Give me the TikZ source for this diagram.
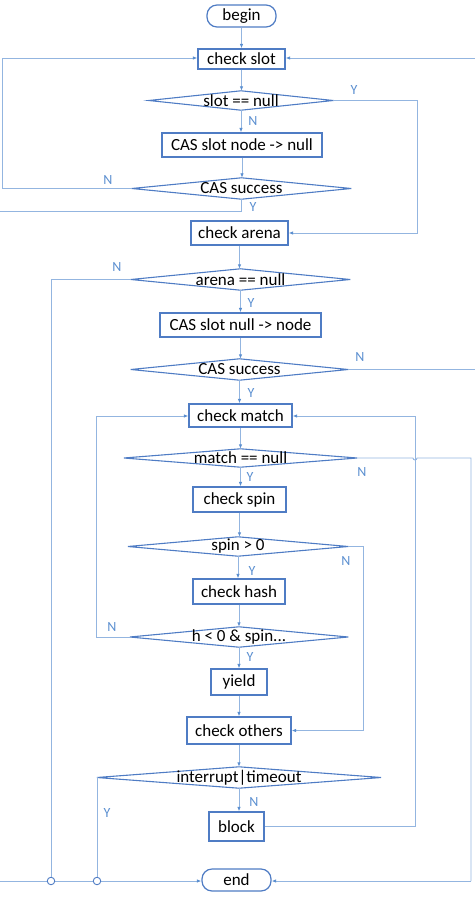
\documentclass[tikz,border=0pt]{standalone}
\usepackage{fontspec}
\setmainfont{Carlito}
\usetikzlibrary{arrows.meta}
\definecolor{conn}{HTML}{93B5E0}
\definecolor{boxc}{HTML}{4F7CC4}
\definecolor{lbl}{HTML}{5B8FD0}
\begin{document}
\begin{tikzpicture}[x=1pt,y=-1pt,
  font=\fontsize{17}{20}\selectfont,
  box/.style={draw=boxc,line width=1.2pt,rectangle,inner sep=0pt,fill=white},
  term/.style={box,rounded corners=10pt},
  dia/.style={rectangle,inner sep=0pt},
  lab/.style={text=lbl,font=\fontsize{14}{16}\selectfont,inner sep=0pt},
  ln/.style={draw=conn,line width=0.9pt},
  arr/.style={ln,-{Latex[length=4.5pt,width=3.5pt,color=lbl]}},
  jn/.style={circle,draw=boxc,fill=white,line width=0.9pt,minimum size=7.5pt,inner sep=0pt}
]
\useasboundingbox (0,0) rectangle (474,901);
% boxes
\node[term,minimum width=69pt,minimum height=22pt] (begin) at (241.5,16) {begin};
\node[box,minimum width=87pt,minimum height=20pt] (b1) at (241.5,59) {check slot};
\node[box,minimum width=160pt,minimum height=24pt] (b2) at (242,145) {CAS slot node -> null};
\node[box,minimum width=97pt,minimum height=24pt] (b3) at (239.5,233) {check arena};
\node[box,minimum width=161pt,minimum height=24pt] (b4) at (240.5,325) {CAS slot null -> node};
\node[box,minimum width=103pt,minimum height=23pt] (b5) at (240.5,415.5) {check match};
\node[box,minimum width=93pt,minimum height=25pt] (b6) at (239.5,499.5) {check spin};
\node[box,minimum width=92pt,minimum height=25pt] (b7) at (239,591.5) {check hash};
\node[box,minimum width=56pt,minimum height=26pt] (b8) at (239,682) {yield};
\node[box,minimum width=104pt,minimum height=27pt] (b9) at (239,730.5) {check others};
\node[box,minimum width=55pt,minimum height=29pt] (b10) at (236.5,826.5) {block};
\node[term,minimum width=69pt,minimum height=22pt] (end) at (236.5,880) {end};
% diamonds
\node[dia,minimum width=184pt,minimum height=19pt] (d1) at (241,100.5) {};
\node[dia,minimum width=219pt,minimum height=21pt] (d2) at (241.5,188.5) {};
\node[dia,minimum width=219pt,minimum height=21pt] (d3) at (240.5,279.5) {};
\node[dia,minimum width=217pt,minimum height=21pt] (d4) at (239.5,369.5) {};
\node[dia,minimum width=233pt,minimum height=18pt] (d5) at (240.5,458) {};
\node[dia,minimum width=220pt,minimum height=19pt] (d6) at (238,546.5) {};
\node[dia,minimum width=218pt,minimum height=20pt] (d7) at (239,637) {};
\node[dia,minimum width=284pt,minimum height=21pt] (d8) at (239,777.5) {};
\foreach \d in {d1,d2,d3,d4,d5,d6,d7,d8}
  \draw[boxc,line width=1.1pt,line join=miter] (\d.west) -- (\d.north) -- (\d.east) -- (\d.south) -- cycle;
\node at (d1) {slot == null};
\node at (d2) {CAS success};
\node at (d3) {arena == null};
\node at (d4) {CAS success};
\node at (d5) {match == null};
\node at (d6) {spin > 0};
\node at (d7) {h < 0 \& spin...};
\node at (d8) {interrupt|timeout};
% straight connectors
\draw[arr] (begin.south) -- (begin.south |- b1.north);
\draw[arr] (b1.south) -- (b1.south |- d1.north);
\draw[arr] (d1.south) -- (d1.south |- b2.north);
\draw[arr] (b2.south) -- (b2.south |- d2.north);
\draw[arr] (b3.south) -- (b3.south |- d3.north);
\draw[arr] (d3.south) -- (d3.south |- b4.north);
\draw[arr] (b4.south) -- (b4.south |- d4.north);
\draw[arr] (d4.south) -- (d4.south |- b5.north);
\draw[arr] (b5.south) -- (b5.south |- d5.north);
\draw[arr] (d5.south) -- (d5.south |- b6.north);
\draw[arr] (b6.south) -- (b6.south |- d6.north);
\draw[arr] (d6.south) -- (d6.south |- b7.north);
\draw[arr] (b7.south) -- (b7.south |- d7.north);
\draw[arr] (d7.south) -- (d7.south |- b8.north);
\draw[arr] (b8.south) -- (b8.south |- b9.north);
\draw[arr] (b9.south) -- (b9.south |- d8.north);
\draw[arr] (d8.south) -- (d8.south |- b10.north);
% loops
\coordinate (lx) at (2,0);
\coordinate (rx) at (478,0);
\draw[arr] (d2.west) -- (lx |- d2.west) -- (2,58) -- (b1.west |- 0,58);
\draw[arr] (d4.east) -- (rx |- d4.east) -- (478,58) -- (b1.east |- 0,58);
\draw[arr] (d1.east) -- (417,100.5) -- (417,233) -- (b3.east);
\draw[arr] (d2.south) -- (241.5,211) -- (-5,211) -- (-5,881) -- (end.west |- 0,881);
\draw[ln] (d5.east) -- (413,458) arc[start angle=180,end angle=0,radius=2] -- (471,458) -- (471,881);
\draw[arr] (471,881) -- (end.east |- 0,881);
\draw[arr] (d6.east) -- (363,546.5) -- (363,730.5) -- (b9.east);
\draw[arr] (d7.west) -- (96,637) -- (96,416) -- (b5.west |- 0,416);
\draw[arr] (b10.east) -- (415,826.5) -- (415,416) -- (b5.east |- 0,416);
\node[jn] (j1) at (51,881) {};
\node[jn] (j2) at (97,881) {};
\draw[ln] (d3.west) -- (51,279.5) -- (j1.north);
\draw[ln] (d8.west) -- (97,777.5) -- (j2.north);
% labels
\node[lab] at (354,90) {Y};
\node[lab] at (253,121) {N};
\node[lab] at (108,180) {N};
\node[lab] at (253,207) {Y};
\node[lab] at (117,267) {N};
\node[lab] at (251,303) {Y};
\node[lab] at (360,357) {N};
\node[lab] at (251,393) {Y};
\node[lab] at (362,472) {N};
\node[lab] at (250,477) {Y};
\node[lab] at (346,561) {N};
\node[lab] at (252,571) {Y};
\node[lab] at (112,627) {N};
\node[lab] at (250,657) {Y};
\node[lab] at (254,802) {N};
\node[lab] at (107,813) {Y};
\end{tikzpicture}
\end{document}
